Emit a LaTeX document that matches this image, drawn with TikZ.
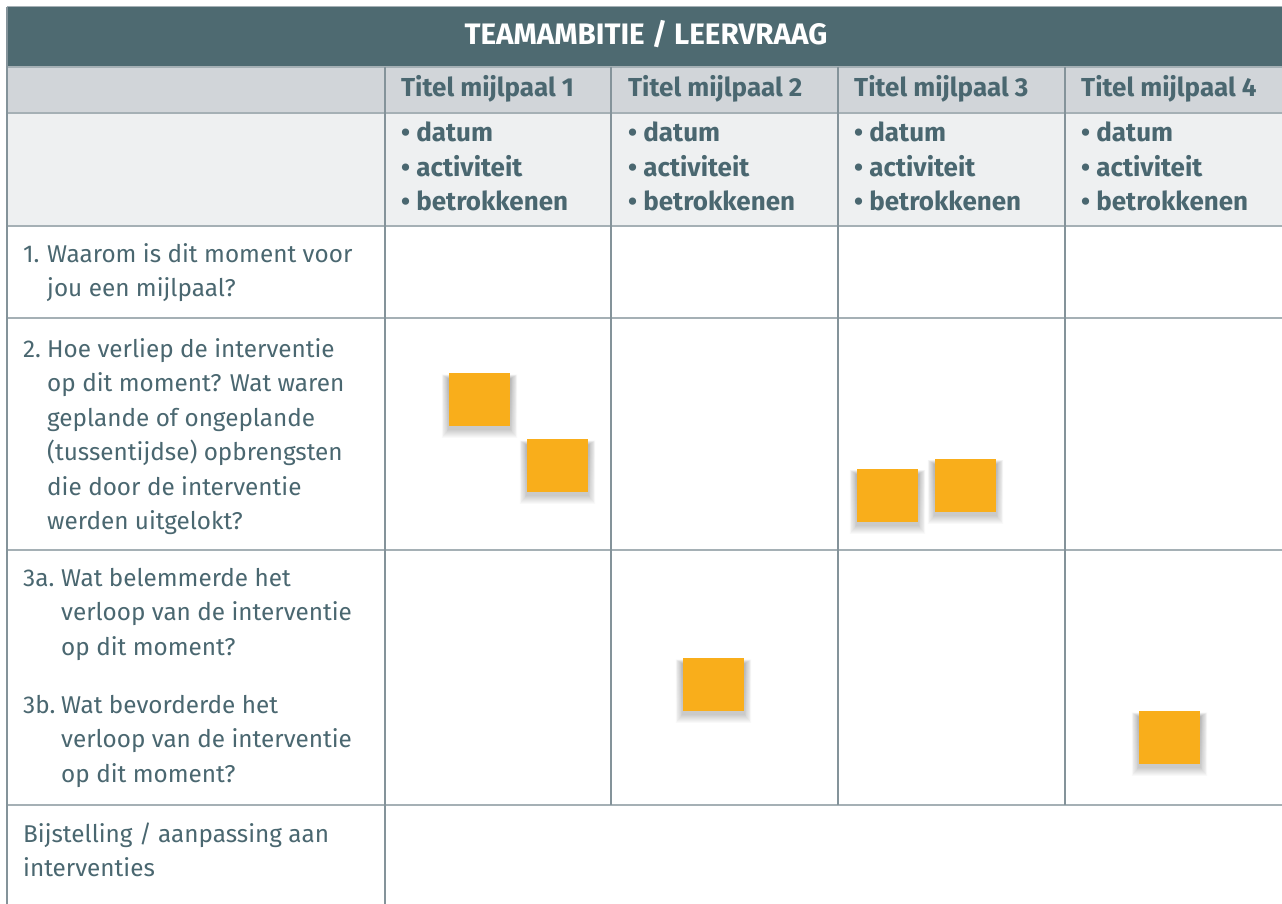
\documentclass[tikz,border=0pt]{standalone}
\usepackage{fontspec}
\setmainfont{Fira Sans}[BoldFont={Fira Sans Bold}]
\definecolor{hdrteal}{HTML}{4E6A71}
\definecolor{txtteal}{HTML}{4A6770}
\definecolor{rowgray}{HTML}{D1D5D9}
\definecolor{rowlight}{HTML}{EEF0F1}
\definecolor{hline}{HTML}{A5B0B5}
\definecolor{vline}{HTML}{84939A}
\definecolor{sticky}{HTML}{F9AE1B}
\definecolor{shade}{HTML}{7890A0}
\newcommand{\stickynote}[3]{%
  \foreach \ss in {1,...,9}{
    \fill[shade, opacity=0.022] (#2-30.5-0.8*\ss,#3-26.5+6-0.5*\ss) rectangle (#2+30.5+0.8*\ss,#3+26.5+3+\ss);
  }
  \node[note] (#1) at (#2,#3) {};
}
\begin{document}
\begin{tikzpicture}[x=1pt,y=-1pt,
  body/.style={anchor=base west, inner sep=0pt, text=txtteal, font=\fontsize{24.3}{24.3}\selectfont},
  colhead/.style={anchor=base west, inner sep=0pt, text=txtteal, font=\fontsize{26}{26}\selectfont\bfseries},
  title/.style={anchor=base, inner sep=0pt, text=white, font=\fontsize{29.6}{29.6}\selectfont\bfseries},
  hrule/.style={draw=hline, line width=1.8pt},
  vrule/.style={draw=vline, line width=1.4pt},
  note/.style={fill=sticky, minimum width=61pt, minimum height=53pt, inner sep=0pt}
]
\useasboundingbox (0,0) rectangle (1282,904);
\fill[white] (0,0) rectangle (1282,904);
\begin{scope}
\clip (0,0) rectangle (1282,904);
% fills
\fill[hdrteal] (7,7) rectangle (1290,67);
\fill[rowgray] (7,67) rectangle (1290,113);
\fill[rowlight] (7,113) rectangle (1290,226);
% horizontal rules
\draw[draw=hline, line width=1pt] (7,7) -- (1290,7);
\foreach \yy in {67,113,226,318,550,805} \draw[hrule] (7,\yy) -- (1290,\yy);
% vertical rules
\draw[vrule] (7,7) -- (7,910);
\draw[vrule] (385,67) -- (385,910);
\foreach \xx in {611,838,1065} \draw[vrule] (\xx,67) -- (\xx,805);
\end{scope}

% title
\node[title] (ttl) at (646,44.3) {TEAMAMBITIE / LEERVRAAG};

% column headers
\foreach \k/\xx in {1/401,2/628,3/854,4/1081}{
  \node[colhead] (h\k) at (\xx,97) {Titel mijlpaal \k};
  \node[colhead] (d\k) at (\xx,142) {• datum};
  \node[colhead] (a\k) at (\xx,176.5) {• activiteit};
  \node[colhead] (b\k) at (\xx,211) {• betrokkenen};
}

% row 1
\node[body] (q1n) at (23,262) {1.};
\node[body] (q1a) at (47,262) {Waarom is dit moment voor};
\node[body] (q1b) at (47,296.5) {jou een mijlpaal?};

% row 2
\node[body] (q2n) at (23,357) {2.};
\node[body] (q2a) at (47,357) {Hoe verliep de interventie};
\node[body] (q2b) at (47,391.5) {op dit moment? Wat waren};
\node[body] (q2c) at (47,426) {geplande of ongeplande};
\node[body] (q2d) at (47,460.5) {(tussentijdse) opbrengsten};
\node[body] (q2e) at (47,495) {die door de interventie};
\node[body] (q2f) at (47,529.5) {werden uitgelokt?};

% row 3
\node[body] (q3n) at (23,586) {3a.};
\node[body] (q3a) at (61,586) {Wat belemmerde het};
\node[body] (q3b) at (61,620.5) {verloop van de interventie};
\node[body] (q3c) at (61,655) {op dit moment?};
\node[body] (q4n) at (23,713) {3b.};
\node[body] (q4a) at (61,713) {Wat bevorderde het};
\node[body] (q4b) at (61,747.5) {verloop van de interventie};
\node[body] (q4c) at (61,782) {op dit moment?};

% row 4
\node[body] (q5a) at (23,842) {Bijstelling / aanpassing aan};
\node[body] (q5b) at (23,876.5) {interventies};

% sticky notes
\stickynote{n1}{479.5}{399.5}
\stickynote{n2}{557.5}{465.5}
\stickynote{n3}{887.5}{495.3}
\stickynote{n4}{965.5}{485.3}
\stickynote{n5}{713.5}{684.5}
\stickynote{n6}{1169.5}{737.5}
\end{tikzpicture}
\end{document}
